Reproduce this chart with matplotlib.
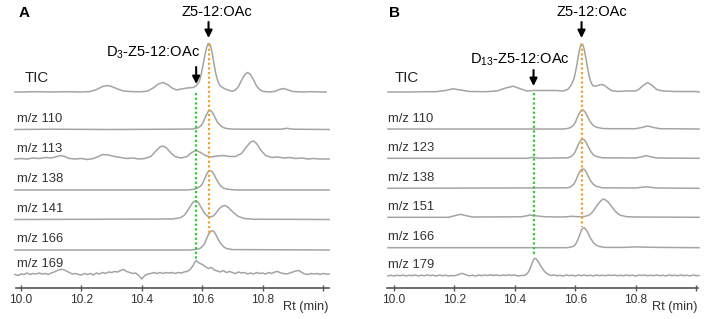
import matplotlib
matplotlib.use('Agg')
import matplotlib.pyplot as plt

plt.rcParams['font.family'] = ['Liberation Sans', 'DejaVu Sans']
plt.rcParams['mathtext.default'] = 'regular'

# traces: (Rt min, height in px above the trace baseline)
a_tic = [(9.98, .5), (10.00, .5), (10.05, .8), (10.10, .5), (10.15, .8), (10.20, .5), (10.23, 1),
         (10.25, 3), (10.27, 6), (10.285, 7), (10.30, 6), (10.32, 3.5), (10.34, 1.5), (10.37, .8),
         (10.40, .8), (10.42, 1.5), (10.44, 5), (10.455, 8.5), (10.47, 10), (10.485, 8), (10.50, 4.5),
         (10.515, 2.5), (10.53, 3.5), (10.55, 4.5), (10.57, 5), (10.58, 6.5), (10.59, 11), (10.595, 16),
         (10.60, 23), (10.605, 31), (10.61, 39), (10.615, 45.5), (10.62, 49), (10.625, 48.5),
         (10.63, 44), (10.635, 36), (10.64, 27), (10.645, 19), (10.65, 13), (10.655, 9), (10.66, 6.5),
         (10.67, 4.5), (10.68, 3), (10.69, 2), (10.70, 1.2), (10.71, 2.5), (10.72, 6), (10.73, 12),
         (10.74, 17.5), (10.75, 20), (10.76, 18), (10.77, 12.5), (10.78, 6.5), (10.79, 3), (10.80, 1.2),
         (10.82, .6), (10.84, 1), (10.855, 3), (10.87, 4), (10.885, 2.5), (10.90, 1), (10.93, .5),
         (10.96, .8), (11.00, .5), (11.01, .5)]
a_110 = [(9.98, 0), (10.10, .3), (10.30, 0), (10.50, .3), (10.57, .5), (10.585, 1.5), (10.595, 3.5),
         (10.60, 5.5), (10.605, 8.5), (10.61, 12), (10.615, 15.5), (10.62, 18), (10.625, 19),
         (10.63, 18.5), (10.635, 16.5), (10.64, 13.5), (10.645, 10.5), (10.65, 7.5), (10.66, 4),
         (10.67, 2), (10.68, 1), (10.70, .4), (10.75, .3), (10.86, .3), (10.88, 1.2), (10.90, .3),
         (11.02, 0)]
a_113 = [(9.98, .5), (10.00, 1), (10.02, .5), (10.04, 1.5), (10.06, 1), (10.08, 2), (10.10, 1.5),
         (10.12, 3), (10.13, 4), (10.145, 3), (10.16, 1), (10.18, .5), (10.20, 1), (10.22, 0),
         (10.24, 1), (10.26, 3.5), (10.27, 5), (10.29, 4.5), (10.31, 3), (10.33, 2), (10.35, 1),
         (10.37, 1.5), (10.39, .5), (10.41, 1), (10.43, 3), (10.445, 8), (10.46, 12.5), (10.47, 13.5),
         (10.48, 12), (10.495, 7), (10.51, 3), (10.53, 1.5), (10.55, 3), (10.565, 7), (10.58, 9),
         (10.595, 7), (10.61, 4), (10.63, 2.5), (10.65, 3.5), (10.67, 4), (10.69, 3), (10.71, 3),
         (10.73, 6), (10.745, 12), (10.76, 17.5), (10.77, 18.5), (10.78, 16), (10.795, 9), (10.81, 4),
         (10.83, 2), (10.85, 2.5), (10.87, 1.5), (10.89, 2), (10.91, 1), (10.93, 1.5), (10.95, .5),
         (10.97, 1), (10.99, .5), (11.02, .5)]
a_138 = [(9.98, 0), (10.55, 0), (10.575, .8), (10.585, 2), (10.595, 4), (10.60, 6), (10.605, 9),
         (10.61, 12.5), (10.615, 16), (10.62, 18.5), (10.625, 19.3), (10.63, 19), (10.635, 17.5),
         (10.64, 15), (10.645, 12), (10.65, 9), (10.66, 4.5), (10.67, 2), (10.68, 1), (10.70, .3),
         (10.72, 0), (11.02, 0)]
a_141 = [(9.98, 0), (10.30, .3), (10.50, .5), (10.525, 1.5), (10.54, 4), (10.55, 8), (10.56, 13),
         (10.57, 17.5), (10.578, 18.7), (10.587, 17), (10.597, 12), (10.607, 6.5), (10.617, 3.5),
         (10.627, 2.5), (10.637, 3.5), (10.647, 7), (10.657, 11), (10.667, 13.5), (10.675, 14),
         (10.685, 12.5), (10.695, 9.5), (10.705, 6.5), (10.72, 3), (10.74, 1), (10.77, .3), (11.02, 0)]
a_166 = [(9.98, 0), (10.56, 0), (10.585, .8), (10.595, 2), (10.605, 5), (10.61, 8), (10.615, 11.5),
         (10.62, 15), (10.625, 17.5), (10.63, 19), (10.635, 19.3), (10.64, 18), (10.645, 15.5),
         (10.65, 12.5), (10.655, 9.5), (10.66, 7), (10.67, 3.5), (10.68, 1.5), (10.70, .4), (11.02, 0)]
a_169 = [(9.98, 0), (9.99, -1), (10.00, .5), (10.01, 0), (10.02, 1.5), (10.03, 0), (10.04, 1),
         (10.05, .5), (10.06, 1.5), (10.07, .5), (10.08, 1), (10.09, 0), (10.10, 1.5), (10.11, 2.5),
         (10.12, 4), (10.13, 5), (10.14, 5), (10.15, 3.5), (10.16, 2), (10.17, .5), (10.18, 1),
         (10.19, 0), (10.20, -.5), (10.21, 1), (10.22, 0), (10.23, 1), (10.24, -.5), (10.25, 1.5),
         (10.26, .5), (10.27, 2), (10.28, 1), (10.29, 2.5), (10.30, 2), (10.31, 3), (10.32, 2.5),
         (10.33, 4), (10.34, 5), (10.35, 3), (10.36, 2), (10.37, 1), (10.38, 1.5), (10.39, -1),
         (10.40, -4.5), (10.41, -1), (10.42, .5), (10.43, 1), (10.44, 2), (10.45, 1), (10.46, 2),
         (10.47, 1), (10.48, 2), (10.49, 1.5), (10.50, 2), (10.51, 1), (10.52, 2), (10.53, 1.5),
         (10.54, 2.5), (10.55, 3), (10.56, 5), (10.57, 9), (10.575, 12), (10.58, 14), (10.59, 11.5),
         (10.60, 10), (10.61, 8), (10.62, 6), (10.63, 7), (10.64, 4.5), (10.65, 3.5), (10.66, 2.5),
         (10.67, 4), (10.68, 2), (10.69, 3), (10.70, 2), (10.71, 1), (10.72, 2.5), (10.73, 1.5),
         (10.74, 2), (10.75, .5), (10.76, 1.5), (10.77, .5), (10.78, 2), (10.79, 1), (10.80, 1.5),
         (10.81, .5), (10.82, 2), (10.83, 1), (10.84, 2.5), (10.85, 3), (10.86, 1.5), (10.87, 1),
         (10.88, .5), (10.89, 1.5), (10.90, 2.5), (10.91, 3.5), (10.92, 4), (10.93, 2), (10.94, .5),
         (10.95, 0), (10.96, 1), (10.97, .5), (10.98, 1), (10.99, 0), (11.00, 1), (11.01, .5),
         (11.02, .5)]

b_tic = [(9.98, .5), (10.05, .5), (10.10, .8), (10.14, .8), (10.17, 2), (10.195, 3.7), (10.22, 2.5),
         (10.25, 1), (10.30, .8), (10.34, 1.5), (10.37, 4.5), (10.395, 6.3), (10.42, 3.5), (10.44, 1.5),
         (10.46, 2), (10.50, 2), (10.54, 2), (10.56, 1.5), (10.575, 3), (10.585, 6.5), (10.595, 13),
         (10.60, 19), (10.605, 27), (10.61, 36), (10.615, 44), (10.62, 48.5), (10.625, 48),
         (10.63, 43), (10.635, 35), (10.64, 26), (10.645, 18), (10.65, 12), (10.655, 8.5), (10.66, 6.5),
         (10.67, 6.5), (10.68, 7.5), (10.69, 8), (10.70, 6.5), (10.71, 4), (10.72, 2), (10.74, 1),
         (10.77, 1.5), (10.80, 1.5), (10.81, 3), (10.825, 7), (10.84, 10), (10.855, 7), (10.87, 3),
         (10.89, 1.5), (10.93, 1), (11.00, 1), (11.01, .5)]
b_110 = [(9.98, 0), (10.56, 0), (10.575, .5), (10.585, 1.5), (10.595, 4), (10.60, 6.5), (10.605, 10),
         (10.61, 13.5), (10.615, 16.5), (10.62, 18.5), (10.625, 19), (10.63, 18), (10.635, 16),
         (10.64, 13), (10.645, 10), (10.65, 7), (10.66, 3.5), (10.67, 1.8), (10.69, .5), (10.72, .3),
         (10.80, .3), (10.82, 1.5), (10.84, 3), (10.86, 1.5), (10.88, .3), (11.01, 0)]
b_123 = [(9.98, 0), (10.44, 0), (10.46, 1), (10.48, 0), (10.575, .5), (10.585, 1.5), (10.595, 4),
         (10.60, 6.5), (10.605, 10), (10.61, 13.5), (10.615, 16.5), (10.62, 18.5), (10.625, 19),
         (10.63, 18.5), (10.635, 16.5), (10.64, 13.5), (10.645, 10.5), (10.65, 7.5), (10.66, 3.5),
         (10.67, 1.8), (10.69, .5), (10.80, .3), (10.82, 1.5), (10.835, 2.7), (10.85, 1.5), (10.87, .3),
         (11.01, 0)]
b_138 = [(9.98, 0), (10.575, .5), (10.585, 1.5), (10.595, 4), (10.60, 6.5), (10.605, 10),
         (10.61, 13.5), (10.615, 16.5), (10.62, 18.5), (10.625, 19.3), (10.63, 18.8), (10.635, 17),
         (10.64, 14), (10.645, 11), (10.65, 8), (10.66, 4), (10.67, 2), (10.69, .5), (10.80, .3),
         (10.82, 1), (10.835, 1.5), (10.85, 1), (10.87, .3), (11.01, 0)]
b_151 = [(9.98, 0), (10.18, 0), (10.20, 1.5), (10.22, 3), (10.24, 1.5), (10.26, .3), (10.42, .5),
         (10.44, 1.5), (10.45, 2.3), (10.47, 1.5), (10.50, .5), (10.56, .3), (10.59, 1), (10.61, .5),
         (10.63, .8), (10.645, 2), (10.655, 4.5), (10.665, 8.5), (10.675, 13), (10.685, 16.5),
         (10.692, 18.3), (10.70, 17.5), (10.71, 15), (10.72, 11), (10.73, 7), (10.74, 4), (10.75, 2),
         (10.77, .6), (10.80, .3), (11.01, 0)]
b_166 = [(9.98, 0), (10.57, 0), (10.585, .5), (10.595, 1.5), (10.60, 3), (10.605, 5.5), (10.61, 9),
         (10.615, 13), (10.62, 17), (10.625, 19.5), (10.63, 20), (10.635, 18.5), (10.64, 16),
         (10.645, 13), (10.65, 10), (10.655, 7.5), (10.66, 5), (10.67, 2.5), (10.68, 1.2), (10.70, .3),
         (10.76, .3), (10.80, .8), (10.84, .5), (10.88, .3), (11.01, 0)]
b_179 = [(9.98, 0), (9.99, .8), (10.00, 0), (10.01, .8), (10.02, .2), (10.03, 1), (10.04, 0),
         (10.05, .8), (10.06, .3), (10.07, 1), (10.08, 0), (10.09, .8), (10.10, .2), (10.11, 1),
         (10.12, .3), (10.13, .8), (10.14, 0), (10.15, 1), (10.16, .3), (10.17, .8), (10.18, 0),
         (10.19, .5), (10.20, .2), (10.21, 1), (10.225, 2.7), (10.24, 1), (10.25, .2), (10.26, .8),
         (10.27, 0), (10.28, 1), (10.29, .3), (10.30, 1), (10.31, .5), (10.32, 1.2), (10.33, .5),
         (10.34, 1), (10.35, .3), (10.36, 1), (10.37, .5), (10.38, 1.2), (10.39, .5), (10.40, 1),
         (10.41, 0), (10.42, .5), (10.43, .5), (10.44, 2), (10.445, 4), (10.45, 7), (10.455, 11),
         (10.46, 15), (10.465, 17.7), (10.47, 17.2), (10.475, 15.5), (10.48, 13), (10.485, 10.5),
         (10.49, 8), (10.50, 4), (10.51, 1.8), (10.52, .5), (10.53, 1), (10.54, .2), (10.55, .8),
         (10.56, 0), (10.57, 1), (10.58, .3), (10.59, .8), (10.60, 0), (10.61, 1), (10.62, .3),
         (10.63, 1), (10.64, .2), (10.65, .8), (10.66, 0), (10.67, 1), (10.68, .3), (10.69, .8),
         (10.70, .2), (10.71, 1), (10.72, .5), (10.73, 1), (10.74, .2), (10.75, .8), (10.76, .2),
         (10.77, 1), (10.78, .3), (10.79, .8), (10.80, 0), (10.81, 1), (10.82, .5), (10.83, 1),
         (10.84, .2), (10.85, .8), (10.86, .3), (10.87, 1), (10.88, .2), (10.89, .8), (10.90, 0),
         (10.91, 1), (10.92, .3), (10.93, .8), (10.94, .2), (10.95, 1), (10.96, .3), (10.97, .8),
         (10.98, 0), (10.99, 1), (11.00, .3), (11.01, .5)]

a_labels = ['TIC', 'm/z 110', 'm/z 113', 'm/z 138', 'm/z 141', 'm/z 166', 'm/z 169']
b_labels = ['TIC', 'm/z 110', 'm/z 123', 'm/z 138', 'm/z 151', 'm/z 166', 'm/z 179']

# retention times of the marked compounds
a_d3_rt, a_z5_rt = 10.58, 10.621
b_d13_rt, b_z5_rt = 10.462, 10.621

tick_pos = [10.0, 10.2, 10.4, 10.6, 10.8, 11.0]
tick_lab = ['10.0', '10.2', '10.4', '10.6', '10.8', '']

# layout (pixels from top of figure)
PXMIN = 302.0
GRAY = '#a4a4a4'
GREEN = '#2ecc2e'
ORANGE = '#f2a22a'


def trace_xy(trace, base):
    xs = [p[0] for p in trace]
    ys = [base - p[1] for p in trace]
    return xs, ys


def draw_panel(ax, x0_px, ax_left_px, ax_w_px, traces, labels, bases, letter,
               marks, axis_bounds, label_x, tic_x):
    left = 10 - (x0_px - ax_left_px) / PXMIN
    ax.set_xlim(left, left + ax_w_px / PXMIN)
    ax.set_ylim(319, 0)
    for sp in ['top', 'left', 'right']:
        ax.spines[sp].set_visible(False)
    ax.spines['bottom'].set_position(('data', 287.5))
    ax.spines['bottom'].set_bounds(*axis_bounds)
    ax.spines['bottom'].set_color('#555555')
    ax.spines['bottom'].set_linewidth(1.2)
    ax.set_yticks([])
    ax.set_xticks(tick_pos)
    ax.set_xticklabels(tick_lab)
    ax.tick_params(axis='x', direction='inout', length=4, width=1, color='#555555',
                   labelsize=8.6, pad=2.6, labelcolor='#333333')

    for tr, base in zip(traces, bases):
        xs, ys = trace_xy(tr, base)
        ax.plot(xs, ys, color=GRAY, lw=1.1, solid_joinstyle='round')

    for i, (lab, base) in enumerate(zip(labels, bases)):
        if i == 0:
            ax.text(tic_x, base - 15, lab, fontsize=10.8, color='#222222', va='center', ha='left')
        else:
            ax.text(label_x, base - 10.5, lab, fontsize=9.4, color='#333333', va='center', ha='left')

    ax.text(axis_bounds[1] - 0.003, 307, 'Rt (min)', fontsize=9.2, color='#333333',
            ha='right', va='center')
    ax.text(label_x + 0.004, 13, letter, fontsize=11, fontweight='bold', ha='left', va='center')

    (d_rt, d_text, d_tx, d_ty, d_y0, d_y1, d_end), (z_rt, z_tx, z_y1, z_end) = marks
    # dotted marker lines
    ax.plot([d_rt, d_rt], [bases[0], d_end], color=GREEN, lw=1.6, ls=(0, (1, 1.1)))
    ax.plot([z_rt, z_rt], [43.5, z_end], color=ORANGE, lw=1.6, ls=(0, (1, 1.1)))
    # arrows and compound names
    arr = dict(arrowstyle='-|>', color='black', lw=1.5, mutation_scale=11, shrinkA=0, shrinkB=0)
    ax.annotate('', xy=(d_rt, d_y1), xytext=(d_rt, d_y0), arrowprops=arr)
    ax.text(d_tx, d_ty, d_text, fontsize=10.5, ha='center', va='center')
    ax.annotate('', xy=(z_rt, z_y1), xytext=(z_rt, 22), arrowprops=arr)
    ax.text(z_tx, 12, 'Z5-12:OAc', fontsize=10.5, ha='center', va='center')


fig = plt.figure(figsize=(7.09, 3.19), dpi=100)
ax_a = fig.add_axes([0, 0, 355 / 709, 1])
ax_b = fig.add_axes([355 / 709, 0, 354 / 709, 1])

a_bases = [92.5, 129.5, 159.5, 190, 219.5, 250, 274.5]
b_bases = [92.5, 129, 158.3, 188.3, 217.3, 247.7, 276]

draw_panel(ax_a, 21, 0, 355, [a_tic, a_110, a_113, a_138, a_141, a_166, a_169], a_labels, a_bases,
           'A',
           ((a_d3_rt, 'D$_3$-Z5-12:OAc', 10 + (153 - 21) / PXMIN, 53, 67, 84, 261),
            (a_z5_rt, 10 + (217 - 21) / PXMIN, 38, 233)),
           (9.983, 11.02), 9.9868, 10.013)
draw_panel(ax_b, 394, 355, 354, [b_tic, b_110, b_123, b_138, b_151, b_166, b_179], b_labels, b_bases,
           'B',
           ((b_d13_rt, 'D$_{13}$-Z5-12:OAc', 10 + (520 - 394) / PXMIN, 60, 70, 86, 254),
            (b_z5_rt, 10 + (592 - 394) / PXMIN, 38, 227)),
           (9.977, 11.007), 9.980, 10.003)

fig.savefig('out.png', dpi=100)
